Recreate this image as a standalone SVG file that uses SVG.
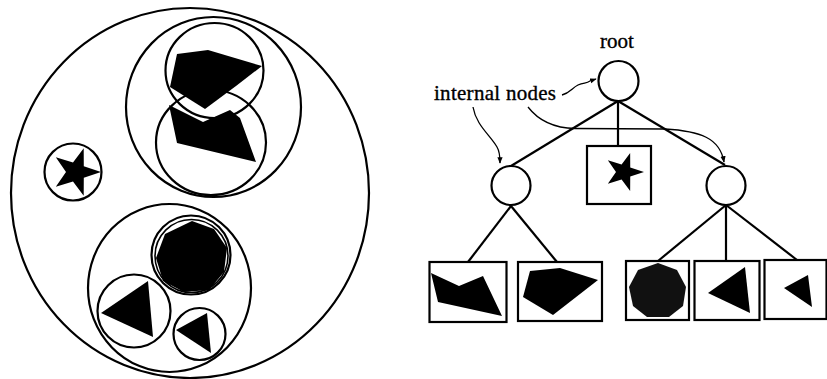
<svg xmlns="http://www.w3.org/2000/svg" width="827" height="379" viewBox="0 0 827 379">
<defs>
<style>
.c{fill:none;stroke:#000;stroke-width:2.2}
.f{fill:#000;stroke:none}
.box{fill:#fff;stroke:#000;stroke-width:2.2}
.edge{stroke:#000;stroke-width:2.2;fill:none}
.ann{stroke:#000;stroke-width:1.3;fill:none}
.lbl{font-family:"Liberation Serif",serif;font-size:21px;fill:#000;stroke:#000;stroke-width:0.35}
</style>
<marker id="ah" viewBox="0 0 10 10" refX="9" refY="5" markerWidth="5" markerHeight="5" orient="auto"><path d="M0,1 L10,5 L0,9 Z" fill="#000"/></marker>
<polygon id="star" points="25,0 7.8,5.7 7.7,23.8 -3,9.5 -20.2,14.7 -10,0 -20.2,-14.7 -3,-9.5 7.7,-23.8 7.8,-5.7"/>
</defs>
<rect width="827" height="379" fill="#fff"/>

<g id="spatial">
  <ellipse class="c" cx="190" cy="193" rx="179" ry="185"/>
  <g id="pair">
    <ellipse class="c" cx="213.5" cy="107" rx="87.5" ry="90"/>
    <polygon class="f" points="169,105 203,122 230,110 240,118 256,162 177,143"/>
    <polygon points="177,54 208,50 262,66 236,86 205,109 170,87" fill="#000" stroke="#fff" stroke-width="4" stroke-linejoin="round"/>
    <polygon class="f" points="177,54 208,50 262,66 236,86 205,109 170,87"/>
    <ellipse class="c" cx="214.5" cy="70.5" rx="49" ry="47.5"/>
    <ellipse class="c" cx="211" cy="142.5" rx="55" ry="52.5"/>
  </g>
  <g id="star-obj">
    <circle class="c" cx="73" cy="172" r="28.5"/>
    <use href="#star" transform="translate(76,172)"/>
  </g>
  <g id="cluster">
    <ellipse class="c" cx="169.5" cy="288" rx="81.5" ry="84"/>
    <circle class="c" cx="191" cy="255" r="39.5"/>
    <circle cx="191.5" cy="256" r="36.5" fill="none" stroke="#000" stroke-width="1.6"/>
    <polygon class="f" points="192,221 214,229 227,248 224,272 209,290 184,292 163,281 156,258 165,234"/>
    <circle class="c" cx="134" cy="311" r="36.5"/>
    <polygon class="f" points="101,313 148,281 153,337"/>
    <circle class="c" cx="199.5" cy="334" r="26"/>
    <polygon class="f" points="176,330 207,313 211,353"/>
  </g>
</g>

<g id="connectors">
  <line class="edge" x1="618" y1="101" x2="511" y2="166"/>
  <line class="edge" x1="618" y1="101" x2="618" y2="146"/>
  <line class="edge" x1="618" y1="101" x2="725" y2="165"/>
  <line class="edge" x1="511" y1="206" x2="468" y2="262"/>
  <line class="edge" x1="511" y1="206" x2="557" y2="262"/>
  <line class="edge" x1="726" y1="205" x2="658" y2="261"/>
  <line class="edge" x1="726" y1="205" x2="726" y2="261"/>
  <line class="edge" x1="726" y1="205" x2="797" y2="260"/>
  <path class="ann" d="M562,95 C570,93 572,88 578,85 C584,82 586,84 590,81 L596,79" marker-end="url(#ah)"/>
  <path class="ann" d="M473,107 C476,125 490,135 497,147 C500,152 500,157 500,163" marker-end="url(#ah)"/>
  <path class="ann" d="M528,107 C538,120 552,128 575,128.5 L665,129 C700,131 720,138 724,162" marker-end="url(#ah)"/>
</g>

<g id="root">
  <circle class="c" cx="618.5" cy="81" r="20" fill="#fff"/>
  <text class="lbl" x="617" y="48" text-anchor="middle">root</text>
</g>
<g id="label-internal">
  <text class="lbl" x="434" y="100" textLength="122">internal nodes</text>
</g>
<g id="node-left">
  <circle class="c" cx="511" cy="185.5" r="19.5"/>
</g>
<g id="node-right">
  <circle class="c" cx="726" cy="185.5" r="19.5"/>
</g>
<g id="leaf-star">
  <rect class="box" x="587" y="146" width="64" height="58"/>
  <use href="#star" transform="translate(624,172) scale(0.8)"/>
</g>
<g id="leaf-1">
  <rect class="box" x="429.5" y="262" width="77" height="60"/>
  <polygon class="f" points="431,273 459,286 483,276 502,316 438,302"/>
</g>
<g id="leaf-2">
  <rect class="box" x="518" y="262" width="84" height="59"/>
  <polygon class="f" points="530,271 560,268 598,280 553,315 523,297"/>
</g>
<g id="leaf-3">
  <rect class="box" x="626" y="261" width="63" height="59"/>
  <polygon points="658,263 677,270 686,287 683,306 669,317 647,317 633,306 629,287 638,270" fill="#111"/>
</g>
<g id="leaf-4">
  <rect class="box" x="694.5" y="261" width="65" height="59"/>
  <polygon class="f" points="708,293 745,267 750,313"/>
</g>
<g id="leaf-5">
  <rect class="box" x="764.5" y="260" width="62" height="59"/>
  <polygon class="f" points="784,288 808,275 812,307"/>
</g>
</svg>
